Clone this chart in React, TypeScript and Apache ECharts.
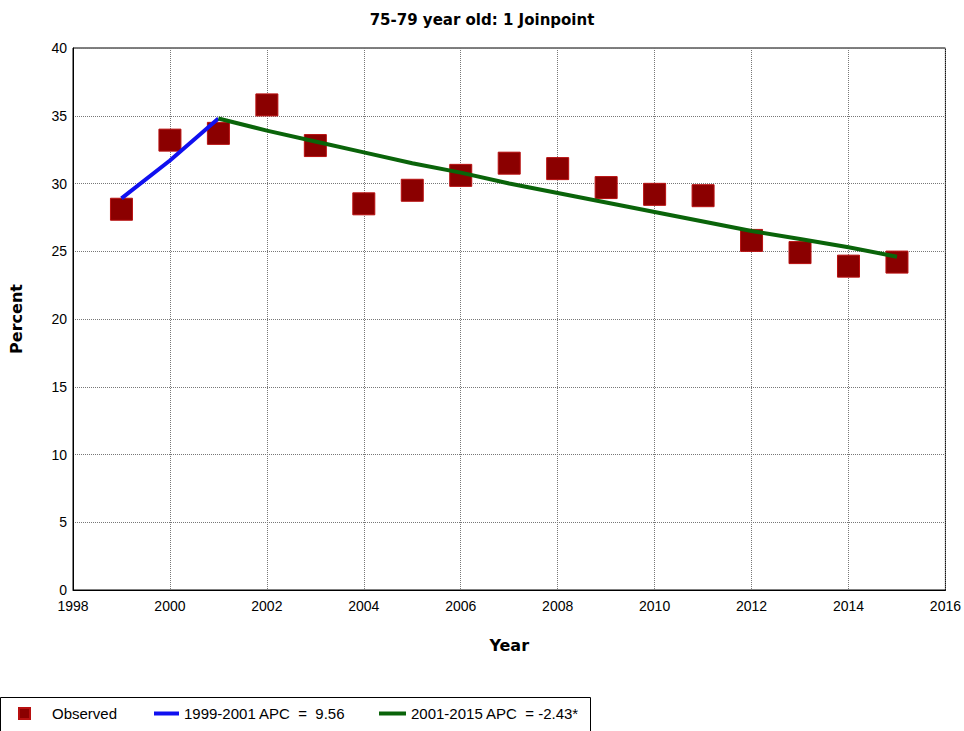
import React, { useEffect, useRef } from "react";
import * as echarts from "echarts";

const years = [1999, 2000, 2001, 2002, 2003, 2004, 2005, 2006, 2007, 2008, 2009, 2010, 2011, 2012, 2013, 2014, 2015];
const observed = [28.1, 33.2, 33.7, 35.8, 32.8, 28.5, 29.5, 30.6, 31.5, 31.1, 29.7, 29.2, 29.1, 25.8, 24.9, 23.9, 24.2];
const seg1Years = [1999, 2000, 2001];
const seg1Fit = [28.9, 31.7, 34.8];
const seg2Years = [2001, 2002, 2003, 2004, 2005, 2006, 2007, 2008, 2009, 2010, 2011, 2012, 2013, 2014, 2015];
const seg2Fit = [34.8, 33.9, 33.1, 32.3, 31.5, 30.8, 30.0, 29.3, 28.6, 27.9, 27.2, 26.5, 25.9, 25.3, 24.6];
const seg1Label = "1999-2001 APC  =  9.56";
const seg2Label = "2001-2015 APC  = -2.43*";
const titleText = "75-79 year old: 1 Joinpoint";

export default function App() {
  const ref = useRef<HTMLDivElement>(null);
  useEffect(() => {
    if (!ref.current) return;
    const chart = echarts.init(ref.current, null, { renderer: "svg" });
    const tickFont = { fontFamily: "Liberation Sans, Arial, sans-serif", fontSize: 14, color: "#000" };
    const legendText = { fontFamily: "Liberation Sans, Arial, sans-serif", fontSize: 15, color: "#000" };
    chart.setOption({
      animation: false,
      backgroundColor: "#fff",
      title: {
        text: titleText,
        left: "center",
        top: 7,
        textStyle: { fontFamily: "DejaVu Sans, Verdana, sans-serif", fontSize: 15, fontWeight: "bold", color: "#000" },
      },
      grid: { left: 73, right: 17, top: 48, bottom: 141, show: true, borderColor: "#000", borderWidth: 1 },
      xAxis: {
        type: "value",
        min: 1998,
        max: 2016,
        interval: 2,
        name: "Year",
        nameLocation: "middle",
        nameGap: 47,
        nameTextStyle: { fontFamily: "DejaVu Sans, Verdana, sans-serif", fontSize: 16, fontWeight: "bold", color: "#000" },
        axisLine: { lineStyle: { color: "#000" } },
        axisTick: { show: false },
        axisLabel: { ...tickFont, margin: 9, formatter: (v: number) => String(v) },
        splitLine: { show: true, lineStyle: { type: "dotted", color: "#777", width: 1 } },
      },
      yAxis: {
        type: "value",
        min: 0,
        max: 40,
        interval: 5,
        name: "Percent",
        nameLocation: "middle",
        nameGap: 49,
        nameRotate: 90,
        nameTextStyle: { fontFamily: "DejaVu Sans, Verdana, sans-serif", fontSize: 16, fontWeight: "bold", color: "#000" },
        axisLine: { show: true, lineStyle: { color: "#000" } },
        axisTick: { show: false },
        axisLabel: { ...tickFont, margin: 6 },
        splitLine: { show: true, lineStyle: { type: "dotted", color: "#777", width: 1 } },
      },
      legend: [
        {
          left: 13,
          top: 701,
          itemWidth: 11,
          itemHeight: 11,
          textStyle: { ...legendText, padding: [0, 0, 0, 17] },
          data: [{ name: "Observed", icon: "path://M0,0h10v10h-10z" }],
        },
        {
          left: 149,
          top: 701,
          itemWidth: 25,
          itemHeight: 11,
          textStyle: legendText,
          data: [{ name: seg1Label, icon: "path://M0,0h25v4h-25z" }],
        },
        {
          left: 374,
          top: 701,
          itemWidth: 27,
          itemHeight: 11,
          textStyle: legendText,
          data: [{ name: seg2Label, icon: "path://M0,0h27v4h-27z" }],
        },
      ],
      series: [
        {
          name: "Observed",
          type: "scatter",
          symbol: "rect",
          symbolSize: 22,
          itemStyle: { color: "#8b0000", borderColor: "#b81010", borderWidth: 1, opacity: 1 },
          data: years.map((y, i) => [y, observed[i]]),
          z: 2,
        },
        {
          name: seg1Label,
          type: "line",
          showSymbol: false,
          symbol: "none",
          lineStyle: { color: "#1010f0", width: 4 },
          itemStyle: { color: "#1010f0" },
          data: seg1Years.map((y, i) => [y, seg1Fit[i]]),
          z: 3,
        },
        {
          name: seg2Label,
          type: "line",
          showSymbol: false,
          symbol: "none",
          lineStyle: { color: "#0a640a", width: 4 },
          itemStyle: { color: "#0a640a" },
          data: seg2Years.map((y, i) => [y, seg2Fit[i]]),
          z: 3,
        },
      ],
      graphic: [
        {
          type: "rect",
          shape: { x: 0.5, y: 697.5, width: 590, height: 50 },
          style: { fill: "none", stroke: "#000", lineWidth: 1 },
          silent: true,
        },
      ],
    });
    return () => chart.dispose();
  }, []);
  return <div ref={ref} style={{ width: 964, height: 731, position: "absolute", left: 0, top: 0 }} />;
}
